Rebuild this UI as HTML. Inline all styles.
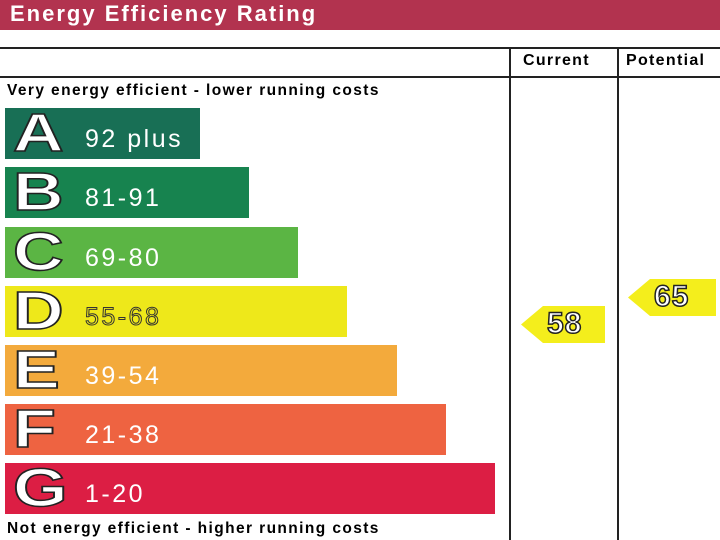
<!DOCTYPE html>
<html><head><style>
body{margin:0;width:720px;height:540px;overflow:hidden;background:#fff;font-family:"Liberation Sans",sans-serif;position:relative}
.hdr{position:absolute;left:0;top:0;width:720px;height:30px;background:#b2334f;color:#fff;font-weight:bold;font-size:22px;letter-spacing:2px;line-height:28px;padding-left:10px;box-sizing:border-box}
.h{position:absolute;left:0;width:720px;height:2px;background:#222}
.v{position:absolute;top:48px;width:2px;height:492px;background:#222}
.col{position:absolute;top:52px;font-weight:bold;font-size:16px;letter-spacing:1.3px}
.t{position:absolute;left:7px;font-weight:bold;font-size:15.5px;letter-spacing:1.4px;white-space:nowrap}
.bar{position:absolute;left:5px;height:51px}
.bar b{position:absolute;left:8px;top:-6px;font-size:54px;font-weight:bold;color:#fff;-webkit-text-stroke:1.5px #222;transform:scaleX(1.3);transform-origin:left}
.bar span{position:absolute;left:80px;top:17px;font-size:25px;letter-spacing:2.5px;color:#fff}
.arr{position:absolute;height:37px;background:#f4ee1c;clip-path:polygon(0 50%,22px 0,100% 0,100% 100%,22px 100%)}
.arr i{position:absolute;left:26px;top:1px;font-style:normal;font-weight:bold;font-size:30px;letter-spacing:1px;color:#fff;-webkit-text-stroke:1.5px #222}
</style></head><body>
<div class="hdr">Energy Efficiency Rating</div>
<div class="h" style="top:47px"></div>
<div class="h" style="top:76px"></div>
<div class="v" style="left:509px"></div>
<div class="v" style="left:617px"></div>
<div class="col" style="left:523px">Current</div>
<div class="col" style="left:626px">Potential</div>
<div class="t" style="top:82px">Very energy efficient - lower running costs</div>
<div class="bar" style="top:108px;width:195px;background:#186f55"><b>A</b><span>92 plus</span></div>
<div class="bar" style="top:167px;width:244px;background:#17834f"><b>B</b><span>81-91</span></div>
<div class="bar" style="top:227px;width:293px;background:#5bb544"><b>C</b><span>69-80</span></div>
<div class="bar" style="top:286px;width:342px;background:#eee81a"><b>D</b><span style="color:#eee81a;-webkit-text-stroke:1px #333">55-68</span></div>
<div class="bar" style="top:345px;width:392px;background:#f3aa3c"><b>E</b><span>39-54</span></div>
<div class="bar" style="top:404px;width:441px;background:#ee6341"><b>F</b><span>21-38</span></div>
<div class="bar" style="top:463px;width:490px;background:#dc1e44"><b>G</b><span>1-20</span></div>
<div class="t" style="top:520px">Not energy efficient - higher running costs</div>
<div class="arr" style="left:521px;top:306px;width:84px"><i>58</i></div>
<div class="arr" style="left:628px;top:279px;width:88px"><i>65</i></div>
</body></html>
